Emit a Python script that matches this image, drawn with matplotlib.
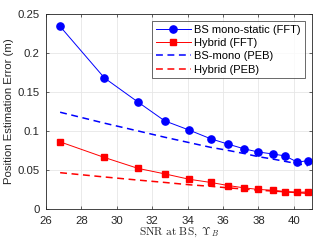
import matplotlib
matplotlib.use("Agg")
import matplotlib.pyplot as plt

snr = [26.8, 29.3, 31.2, 32.7, 34.1, 35.3, 36.3, 37.2, 38.0, 38.8, 39.5, 40.2, 40.8]
bs_fft = [0.234, 0.168, 0.137, 0.113, 0.101, 0.090, 0.083, 0.077, 0.073, 0.0705, 0.068, 0.060, 0.062]
hyb_fft = [0.086, 0.066, 0.052, 0.045, 0.038, 0.034, 0.030, 0.027, 0.025, 0.024, 0.022, 0.0214, 0.0218]
bs_peb = [0.124, 0.110, 0.100, 0.092, 0.085, 0.079, 0.075, 0.071, 0.067, 0.064, 0.061, 0.058, 0.0555]
hyb_peb = [0.0465, 0.041, 0.037, 0.034, 0.031, 0.029, 0.027, 0.0255, 0.024, 0.023, 0.022, 0.021, 0.020]

xticks = [26, 28, 30, 32, 34, 36, 38, 40]
yticks = [0, 0.05, 0.1, 0.15, 0.2, 0.25]
ytick_labels = ["0", "0.05", "0.1", "0.15", "0.2", "0.25"]

plt.rcParams['font.family'] = ['Liberation Sans', 'DejaVu Sans']
plt.rcParams['mathtext.fontset'] = 'cm'

fig = plt.figure(figsize=(3.17, 2.41), dpi=100)
ax = fig.add_axes([0.145, 0.133, 0.838, 0.809])

ax.plot(snr, bs_fft, '-o', color='blue', lw=0.7, ms=5.2, label='BS mono-static (FFT)')
ax.plot(snr, hyb_fft, '-s', color='red', lw=0.7, ms=4.2, label='Hybrid (FFT)')
ax.plot(snr, bs_peb, '--', color='blue', lw=1.1, dashes=(4.5, 3), label='BS-mono (PEB)')
ax.plot(snr, hyb_peb, '--', color='red', lw=1.1, dashes=(4.5, 3), label='Hybrid (PEB)')

ax.set_xlim(26, 41)
ax.set_ylim(0, 0.25)
ax.set_xticks(xticks)
ax.set_yticks(yticks)
ax.set_yticklabels(ytick_labels)
ax.grid(True, color='#e6e6e6', lw=0.6)
ax.set_axisbelow(True)
ax.tick_params(direction='in', top=True, right=True, labelsize=8.2, length=2.5,
               width=0.5, colors='#262626')
ax.tick_params(axis='x', pad=5)
ax.tick_params(axis='y', pad=4.5)
for s in ax.spines.values():
    s.set_color('#262626')
    s.set_linewidth(0.6)

ax.set_ylabel('Position Estimation Error (m)', fontsize=8.2, color='#262626', labelpad=2.5)
ax.set_xlabel(r'$\mathrm{SNR\ at\ BS,}\ \Upsilon_B$', fontsize=8.2,
              color='#262626', labelpad=0)

leg = ax.legend(loc='upper right', fontsize=8, handlelength=3.2, frameon=True,
                fancybox=False, edgecolor='#262626', borderpad=0.35, labelspacing=0.3,
                handletextpad=0.3, borderaxespad=0.6)
leg.get_frame().set_linewidth(0.6)

fig.savefig('out.png', dpi=100)
